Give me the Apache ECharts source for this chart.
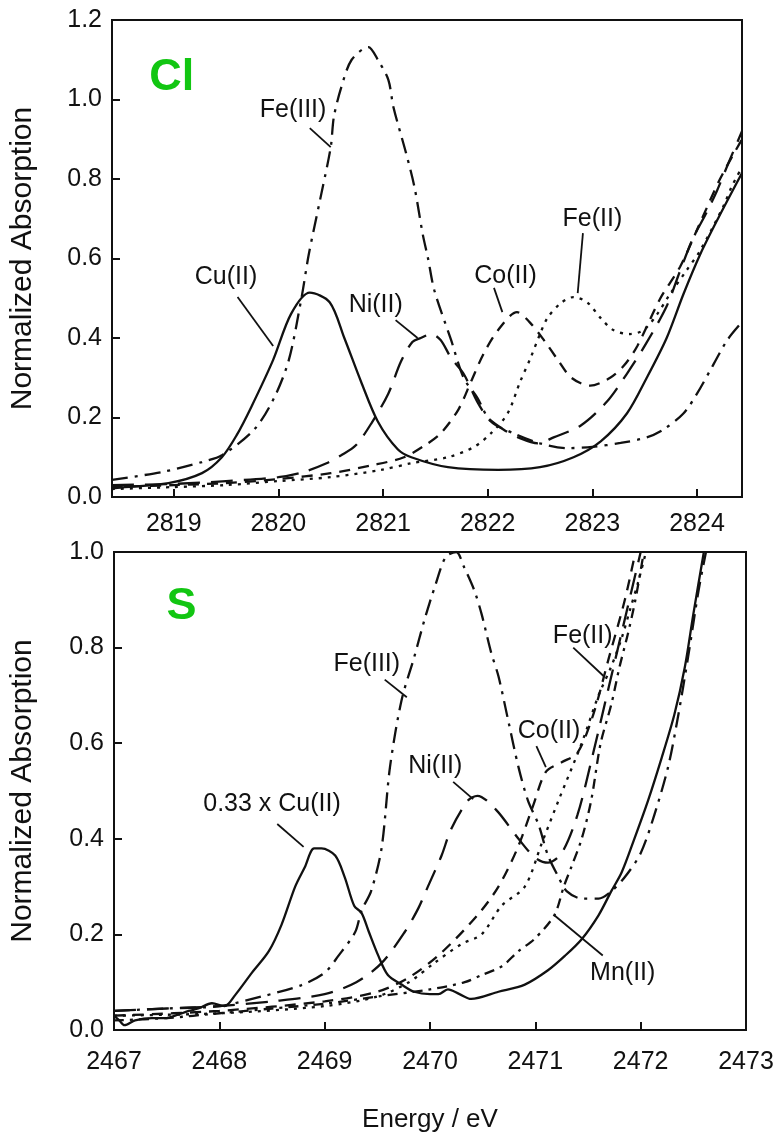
<!DOCTYPE html>
<html><head><meta charset="utf-8">
<script src="https://cdn.jsdelivr.net/npm/echarts@6/dist/echarts.min.js"></script>
<style>html,body{margin:0;padding:0;background:#fff}#c{width:779px;height:1134px}</style>
</head><body><div id="c"></div>
<script>
// ---------- Cl K-edge (top panel) ----------
const clCu = [[2818.41,0.02],[2818.46,0.023],[2818.95,0.035],[2819.27,0.06],[2819.46,0.10],[2819.6,0.155],[2819.74,0.226],[2819.95,0.345],[2820.12,0.46],[2820.3,0.514],[2820.49,0.49],[2820.63,0.40],[2820.79,0.29],[2820.95,0.19],[2821.14,0.12],[2821.27,0.10],[2821.62,0.075],[2822.1,0.068],[2822.5,0.075],[2822.82,0.10],[2823.08,0.14],[2823.33,0.21],[2823.52,0.30],[2823.71,0.40],[2823.87,0.51],[2824.03,0.61],[2824.2,0.70],[2824.43,0.815]];
const clFe3 = [[2818.41,0.043],[2818.89,0.063],[2819.27,0.088],[2819.46,0.105],[2819.77,0.17],[2819.96,0.25],[2820.1,0.345],[2820.22,0.50],[2820.29,0.61],[2820.4,0.75],[2820.5,0.88],[2820.53,0.956],[2820.6,1.03],[2820.7,1.10],[2820.86,1.132],[2820.95,1.10],[2821.05,1.05],[2821.1,0.98],[2821.22,0.865],[2821.3,0.78],[2821.38,0.66],[2821.43,0.60],[2821.49,0.52],[2821.65,0.395],[2821.77,0.30],[2821.9,0.25],[2822.03,0.19],[2822.25,0.16],[2822.5,0.135],[2822.76,0.123],[2823.0,0.126],[2823.27,0.136],[2823.52,0.15],[2823.68,0.17],[2823.87,0.21],[2824.0,0.26],[2824.15,0.33],[2824.29,0.395],[2824.43,0.44]];
const clNi = [[2818.41,0.03],[2819.0,0.033],[2819.5,0.04],[2820.0,0.05],[2820.24,0.063],[2820.46,0.085],[2820.6,0.105],[2820.74,0.13],[2820.89,0.186],[2821.05,0.26],[2821.17,0.34],[2821.28,0.39],[2821.36,0.40],[2821.46,0.41],[2821.55,0.395],[2821.65,0.35],[2821.77,0.31],[2821.9,0.24],[2822.0,0.20],[2822.15,0.17],[2822.29,0.15],[2822.48,0.135],[2822.63,0.15],[2822.89,0.18],[2823.14,0.24],[2823.33,0.31],[2823.5,0.38],[2823.71,0.48],[2823.84,0.57],[2823.96,0.65],[2824.08,0.71],[2824.19,0.77],[2824.3,0.84],[2824.43,0.92]];
const clCo = [[2818.41,0.025],[2819.0,0.03],[2819.5,0.035],[2820.0,0.045],[2820.5,0.06],[2820.9,0.08],[2821.2,0.10],[2821.4,0.13],[2821.55,0.16],[2821.72,0.22],[2821.84,0.29],[2821.96,0.36],[2822.1,0.42],[2822.28,0.465],[2822.4,0.44],[2822.55,0.39],[2822.67,0.345],[2822.8,0.30],[2822.98,0.28],[2823.17,0.30],[2823.3,0.33],[2823.43,0.38],[2823.65,0.50],[2823.84,0.58],[2824.03,0.69],[2824.22,0.80],[2824.43,0.90]];
const clFe2 = [[2818.41,0.02],[2819.0,0.025],[2819.5,0.03],[2820.0,0.04],[2820.5,0.05],[2820.98,0.068],[2821.27,0.085],[2821.62,0.10],[2821.87,0.126],[2822.03,0.16],[2822.19,0.21],[2822.31,0.29],[2822.41,0.35],[2822.5,0.41],[2822.57,0.45],[2822.7,0.488],[2822.82,0.503],[2822.95,0.49],[2823.08,0.45],[2823.2,0.42],[2823.36,0.41],[2823.49,0.42],[2823.62,0.46],[2823.74,0.51],[2823.9,0.57],[2824.03,0.62],[2824.25,0.73],[2824.33,0.78],[2824.43,0.83]];
const clXTicks = [2819, 2820, 2821, 2822, 2823, 2824];

// ---------- S K-edge (bottom panel) ----------
const sCu = [[2467.0,0.03],[2467.05,0.02],[2467.1,0.01],[2467.2,0.02],[2467.36,0.025],[2467.5,0.025],[2467.58,0.03],[2467.71,0.04],[2467.8,0.045],[2467.93,0.056],[2468.05,0.05],[2468.15,0.073],[2468.31,0.12],[2468.47,0.165],[2468.59,0.22],[2468.72,0.30],[2468.81,0.34],[2468.9,0.38],[2468.97,0.38],[2469.1,0.365],[2469.19,0.32],[2469.28,0.26],[2469.35,0.245],[2469.42,0.205],[2469.51,0.155],[2469.6,0.115],[2469.73,0.095],[2469.85,0.08],[2470.0,0.075],[2470.08,0.075],[2470.17,0.085],[2470.28,0.075],[2470.39,0.065],[2470.65,0.08],[2470.9,0.095],[2471.12,0.125],[2471.28,0.155],[2471.44,0.19],[2471.6,0.24],[2471.72,0.29],[2471.82,0.33],[2471.94,0.40],[2472.07,0.48],[2472.2,0.57],[2472.32,0.66],[2472.42,0.76],[2472.5,0.87],[2472.6,1.0]];
const sFe3 = [[2467.0,0.04],[2467.5,0.045],[2468.0,0.05],[2468.4,0.07],[2468.78,0.094],[2469.0,0.12],[2469.13,0.155],[2469.29,0.205],[2469.35,0.25],[2469.44,0.29],[2469.54,0.38],[2469.62,0.55],[2469.73,0.69],[2469.85,0.78],[2469.95,0.86],[2470.05,0.93],[2470.15,0.99],[2470.25,1.0],[2470.32,0.97],[2470.42,0.92],[2470.49,0.87],[2470.58,0.79],[2470.65,0.74],[2470.74,0.65],[2470.84,0.55],[2470.93,0.48],[2471.03,0.43],[2471.12,0.365],[2471.22,0.32],[2471.3,0.29],[2471.44,0.275],[2471.6,0.275],[2471.72,0.29],[2471.85,0.32],[2472.0,0.37],[2472.13,0.45],[2472.26,0.55],[2472.35,0.65],[2472.45,0.78],[2472.55,0.92],[2472.62,1.0]];
const sNi = [[2467.0,0.04],[2467.5,0.045],[2468.0,0.05],[2468.5,0.06],[2469.0,0.075],[2469.3,0.10],[2469.54,0.14],[2469.76,0.205],[2469.89,0.255],[2469.98,0.30],[2470.11,0.365],[2470.2,0.42],[2470.36,0.48],[2470.45,0.49],[2470.63,0.46],[2470.84,0.40],[2471.0,0.36],[2471.12,0.35],[2471.25,0.37],[2471.4,0.45],[2471.55,0.58],[2471.7,0.72],[2471.85,0.86],[2472.0,1.0]];
const sCo = [[2467.0,0.03],[2468.0,0.04],[2469.0,0.06],[2469.5,0.08],[2469.8,0.11],[2470.1,0.16],[2470.45,0.24],[2470.65,0.30],[2470.83,0.38],[2470.98,0.47],[2471.1,0.54],[2471.25,0.56],[2471.4,0.58],[2471.55,0.66],[2471.7,0.78],[2471.85,0.90],[2471.95,1.0]];
const sFe2 = [[2467.0,0.03],[2468.0,0.035],[2469.0,0.05],[2469.5,0.07],[2469.8,0.10],[2470.04,0.14],[2470.3,0.18],[2470.49,0.20],[2470.68,0.26],[2470.9,0.30],[2471.06,0.39],[2471.22,0.48],[2471.44,0.60],[2471.6,0.70],[2471.72,0.76],[2471.82,0.82],[2471.9,0.88],[2471.98,0.94],[2472.05,1.0]];
const sMn = [[2467.0,0.02],[2467.5,0.025],[2468.0,0.035],[2468.5,0.045],[2469.0,0.055],[2469.5,0.07],[2470.0,0.085],[2470.33,0.10],[2470.49,0.115],[2470.68,0.133],[2470.84,0.165],[2470.99,0.19],[2471.18,0.24],[2471.27,0.30],[2471.34,0.34],[2471.44,0.40],[2471.53,0.48],[2471.62,0.60],[2471.72,0.68],[2471.8,0.76],[2471.88,0.83],[2471.95,0.90],[2472.03,1.0]];

// ---------- annotations (data coordinates) ----------
const clLabels = [['Fe(III)',2820.14,0.974],['Cu(II)',2819.50,0.553],['Ni(II)',2820.93,0.483],['Co(II)',2822.17,0.556],['Fe(II)',2823.0,0.70]];
const clLeaders = [[[2820.30,0.928],[2820.50,0.880]],[[2819.61,0.503],[2819.95,0.38]],[[2821.12,0.445],[2821.33,0.40]],[[2822.06,0.526],[2822.14,0.465]],[[2822.91,0.664],[2822.86,0.513]]];
const sLabels = [['Fe(III)',2469.40,0.765],['0.33 x Cu(II)',2468.50,0.473],['Ni(II)',2470.05,0.552],['Co(II)',2471.13,0.625],['Fe(II)',2471.45,0.823],['Mn(II)',2471.83,0.119]];
const sLeaders = [[[2469.57,0.733],[2469.78,0.696]],[[2468.55,0.431],[2468.80,0.383]],[[2470.22,0.519],[2470.41,0.483]],[[2471.01,0.594],[2471.10,0.55]],[[2471.36,0.80],[2471.65,0.74]],[[2471.18,0.24],[2471.64,0.156]]];
const panelTags = [['Cl',0,2818.98,1.054],['S',1,2467.64,0.885]];

const FONT = '"Liberation Sans", Arial, Helvetica, sans-serif';
const INK = '#111';
const ST = {
  solid: 'solid',
  dashdot: [16, 7, 3, 7],
  longdash: [22, 11],
  dash: [11, 8],
  dot: [3, 6],
  dashdot2: [10, 6, 3, 6]
};
function curve(data, style, idx) {
  return { type: 'line', xAxisIndex: idx, yAxisIndex: idx, data: data, showSymbol: false, symbol: 'none',
    smooth: 0.3, silent: true, lineStyle: { color: INK, width: 2.3, type: style }, z: 3 };
}
function leader(pts, idx) {
  return { type: 'line', xAxisIndex: idx, yAxisIndex: idx, data: pts, showSymbol: false, symbol: 'none',
    silent: true, lineStyle: { color: INK, width: 1.8, type: 'solid' }, z: 4 };
}
function labels(list, idx) {
  return { type: 'scatter', xAxisIndex: idx, yAxisIndex: idx, symbolSize: 1, silent: true,
    itemStyle: { color: 'rgba(0,0,0,0)', opacity: 1 },
    data: list.map(d => ({ name: d[0], value: [d[1], d[2]] })),
    label: { show: true, position: 'inside', formatter: '{b}', color: INK, opacity: 1, fontSize: 25, fontFamily: FONT }, z: 5 };
}
function tag(t) {
  return { type: 'scatter', xAxisIndex: t[1], yAxisIndex: t[1], symbolSize: 1, silent: true,
    itemStyle: { color: 'rgba(0,0,0,0)', opacity: 1 }, data: [{ name: t[0], value: [t[2], t[3]] }],
    label: { show: true, position: 'inside', formatter: '{b}', color: '#12c612', opacity: 1, fontSize: 45, fontWeight: 'bold', fontFamily: 'Arial, "Liberation Sans", sans-serif' }, z: 5 };
}

const axisCommon = {
  axisLine: { show: true, onZero: false, lineStyle: { color: INK, width: 2 } },
  axisTick: { show: true, inside: true, length: 8, lineStyle: { color: INK, width: 2 } },
  splitLine: { show: false },
  axisLabel: { color: INK, fontSize: 25, fontFamily: FONT }
};

const series = [
  curve(clCu, ST.solid, 0), curve(clFe3, ST.dashdot, 0), curve(clNi, ST.longdash, 0),
  curve(clCo, ST.dash, 0), curve(clFe2, ST.dot, 0),
  curve(sCu, ST.solid, 1), curve(sFe3, ST.dashdot, 1), curve(sNi, ST.longdash, 1),
  curve(sCo, ST.dash, 1), curve(sFe2, ST.dot, 1), curve(sMn, ST.dashdot2, 1),
  labels(clLabels, 0), labels(sLabels, 1)
];
clLeaders.forEach(p => series.push(leader(p, 0)));
sLeaders.forEach(p => series.push(leader(p, 1)));
panelTags.forEach(t => series.push(tag(t)));

const option = {
  animation: false,
  backgroundColor: '#fff',
  textStyle: { fontFamily: FONT },
  grid: [
    { left: 110, top: 20, width: 632, height: 477, show: true, borderColor: INK, borderWidth: 2, backgroundColor: 'transparent' },
    { left: 112, top: 552, width: 634, height: 480, show: true, borderColor: INK, borderWidth: 2, backgroundColor: 'transparent' }
  ],
  xAxis: [
    Object.assign({}, axisCommon, { type: 'value', gridIndex: 0, min: 2818.41, max: 2824.43,
      axisTick: Object.assign({}, axisCommon.axisTick, { customValues: clXTicks }),
      axisLabel: Object.assign({}, axisCommon.axisLabel, { margin: 15, customValues: clXTicks, formatter: v => String(Math.round(v)) }) }),
    Object.assign({}, axisCommon, { type: 'value', gridIndex: 1, min: 2467, max: 2473, interval: 1,
      axisLabel: Object.assign({}, axisCommon.axisLabel, { margin: 20, formatter: v => String(v) }),
      name: 'Energy / eV', nameLocation: 'middle', nameGap: 77,
      nameTextStyle: { color: INK, fontSize: 26, fontFamily: FONT } })
  ],
  yAxis: [
    Object.assign({}, axisCommon, { type: 'value', gridIndex: 0, min: 0, max: 1.2, interval: 0.2,
      axisLabel: Object.assign({}, axisCommon.axisLabel, { margin: 10, formatter: v => v.toFixed(1) }),
      name: 'Normalized Absorption', nameLocation: 'middle', nameGap: 74, nameRotate: 90,
      nameTextStyle: { color: INK, fontSize: 30, fontFamily: FONT } }),
    Object.assign({}, axisCommon, { type: 'value', gridIndex: 1, min: 0, max: 1.0, interval: 0.2,
      axisLabel: Object.assign({}, axisCommon.axisLabel, { margin: 10, formatter: v => v.toFixed(1) }),
      name: 'Normalized Absorption', nameLocation: 'middle', nameGap: 76, nameRotate: 90,
      nameTextStyle: { color: INK, fontSize: 30, fontFamily: FONT } })
  ],
  series: series
};
const chart = echarts.init(document.getElementById('c'), null, { renderer: 'canvas' });
chart.setOption(option);
</script></body></html>
